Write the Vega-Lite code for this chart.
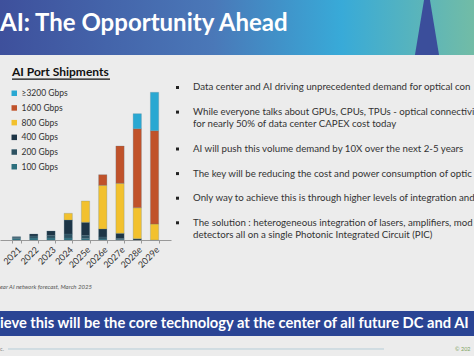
{
  "$schema": "https://vega.github.io/schema/vega-lite/v6.json",
  "background": "#ececec",
  "padding": 0,
  "spacing": 0,
  "config": {"view": {"stroke": null}, "font": "Lato"},
  "vconcat": [
    {
      "width": 474,
      "height": 55,
      "view": {"fill": {"gradient": "linear", "x1": 0, "y1": 0, "x2": 1, "y2": 0, "stops": [{"offset": 0, "color": "#3e509c"}, {"offset": 0.45, "color": "#4a78b8"}, {"offset": 0.72, "color": "#38aad8"}, {"offset": 1, "color": "#72bca6"}]}, "stroke": null},
      "data": {"values": [{"title": "AI: The Opportunity Ahead"}]},
      "layer": [
        {"mark": {"type": "point", "shape": "M0,-1L0.33,1L-0.33,1Z", "filled": true, "size": 5329, "color": "#3b4e9b", "opacity": 1, "clip": true}, "encoding": {"x": {"value": 427}, "y": {"value": 18.5}}},
        {"mark": {"type": "text", "font": "Lato", "fontSize": 24, "fontWeight": "bold", "color": "white", "align": "left", "baseline": "alphabetic"}, "encoding": {"x": {"value": 0}, "y": {"value": 31}, "text": {"field": "title"}}}
      ]
    },
    {
      "spacing": 0,
      "bounds": "flush",
      "hconcat": [
        {
          "width": 171,
          "height": 185,
          "layer": [
            {
              "data": {"values": [
                {"year": "2021", "series": "100 Gbps", "gbps": 100, "value": 1.4},
                {"year": "2021", "series": "200 Gbps", "gbps": 200, "value": 1.3},
                {"year": "2021", "series": "400 Gbps", "gbps": 400, "value": 0.6},
                {"year": "2022", "series": "100 Gbps", "gbps": 100, "value": 2},
                {"year": "2022", "series": "200 Gbps", "gbps": 200, "value": 2},
                {"year": "2022", "series": "400 Gbps", "gbps": 400, "value": 2},
                {"year": "2023", "series": "100 Gbps", "gbps": 100, "value": 2},
                {"year": "2023", "series": "200 Gbps", "gbps": 200, "value": 2.5},
                {"year": "2023", "series": "400 Gbps", "gbps": 400, "value": 4.5},
                {"year": "2024", "series": "100 Gbps", "gbps": 100, "value": 2},
                {"year": "2024", "series": "200 Gbps", "gbps": 200, "value": 4},
                {"year": "2024", "series": "400 Gbps", "gbps": 400, "value": 14},
                {"year": "2024", "series": "800 Gbps", "gbps": 800, "value": 6.7},
                {"year": "2025e", "series": "100 Gbps", "gbps": 100, "value": 1.5},
                {"year": "2025e", "series": "200 Gbps", "gbps": 200, "value": 3},
                {"year": "2025e", "series": "400 Gbps", "gbps": 400, "value": 13.2},
                {"year": "2025e", "series": "800 Gbps", "gbps": 800, "value": 21.3},
                {"year": "2026e", "series": "100 Gbps", "gbps": 100, "value": 1},
                {"year": "2026e", "series": "200 Gbps", "gbps": 200, "value": 2},
                {"year": "2026e", "series": "400 Gbps", "gbps": 400, "value": 8},
                {"year": "2026e", "series": "800 Gbps", "gbps": 800, "value": 43.7},
                {"year": "2026e", "series": "1600 Gbps", "gbps": 1600, "value": 10.6},
                {"year": "2027e", "series": "100 Gbps", "gbps": 100, "value": 0.5},
                {"year": "2027e", "series": "200 Gbps", "gbps": 200, "value": 1},
                {"year": "2027e", "series": "400 Gbps", "gbps": 400, "value": 5.2},
                {"year": "2027e", "series": "800 Gbps", "gbps": 800, "value": 50},
                {"year": "2027e", "series": "1600 Gbps", "gbps": 1600, "value": 37.3},
                {"year": "2028e", "series": "400 Gbps", "gbps": 400, "value": 1.3},
                {"year": "2028e", "series": "800 Gbps", "gbps": 800, "value": 31},
                {"year": "2028e", "series": "1600 Gbps", "gbps": 1600, "value": 79},
                {"year": "2028e", "series": "≥3200 Gbps", "gbps": 3200, "value": 15},
                {"year": "2029e", "series": "800 Gbps", "gbps": 800, "value": 16},
                {"year": "2029e", "series": "1600 Gbps", "gbps": 1600, "value": 93.3},
                {"year": "2029e", "series": "≥3200 Gbps", "gbps": 3200, "value": 38.4}
              ]},
              "mark": {"type": "bar", "stroke": "#5b7f8c", "strokeWidth": 0.25},
              "encoding": {
                "x": {"field": "year", "type": "ordinal", "sort": null, "scale": {"paddingInner": 0.52, "paddingOuter": 0.714}, "axis": {"title": null, "labelAngle": -45, "labelFont": "Lato", "labelFontSize": 9, "labelColor": "#333", "domainColor": "#999", "tickColor": "#999", "tickSize": 3, "tickBand": "extent", "labelPadding": 2, "grid": false}},
                "y": {"field": "value", "type": "quantitative", "stack": "zero", "scale": {"domain": [0, 185], "nice": false}, "axis": null},
                "color": {"field": "series", "type": "nominal", "scale": {"domain": ["≥3200 Gbps", "1600 Gbps", "800 Gbps", "400 Gbps", "200 Gbps", "100 Gbps"], "range": ["#2aa8d2", "#c0522a", "#f2c12e", "#1d3546", "#2d5262", "#2c6f7e"]}, "legend": {"orient": "none", "legendX": 10, "legendY": 89, "title": null, "symbolType": "square", "symbolSize": 30, "symbolStrokeWidth": 0, "labelFont": "Lato", "labelFontSize": 8.5, "labelColor": "#333", "rowPadding": 5.7, "labelOffset": 3}},
                "order": {"field": "gbps", "sort": "ascending"}
              }
            },
            {
              "data": {"values": [{"t": "AI Port Shipments"}]},
              "mark": {"type": "text", "font": "Lato", "fontSize": 12, "fontWeight": "bold", "color": "#111", "align": "left", "baseline": "alphabetic"},
              "encoding": {"x": {"value": 12}, "y": {"value": 21}, "text": {"field": "t"}}
            },
            {
              "data": {"values": [{"t": "underline"}]},
              "mark": {"type": "rule", "color": "#111", "strokeWidth": 1.3},
              "encoding": {"x": {"value": 12}, "x2": {"value": 110}, "y": {"value": 24.2}}
            },
            {
              "data": {"values": [{"t": "ear AI network forecast, March 2025"}]},
              "mark": {"type": "text", "font": "Lato", "fontSize": 6, "fontStyle": "italic", "color": "#555", "align": "left", "baseline": "middle"},
              "encoding": {"x": {"value": 0}, "y": {"value": 232}, "text": {"field": "t"}}
            }
          ]
        },
        {
          "width": 303,
          "height": 256,
          "data": {"values": [
            {"line": 0, "bullet": true, "text": "Data center and AI driving unprecedented demand for optical con"},
            {"line": 2, "bullet": true, "text": "While everyone talks about GPUs, CPUs, TPUs  - optical connectivi"},
            {"line": 3, "bullet": false, "text": "for nearly 50% of data center CAPEX cost today"},
            {"line": 5, "bullet": true, "text": "AI will push this volume demand by 10X over the next 2-5 years"},
            {"line": 7, "bullet": true, "text": "The key will be reducing the cost and power consumption of optic"},
            {"line": 9, "bullet": true, "text": "Only way to achieve this is through higher levels of integration and"},
            {"line": 11, "bullet": true, "text": "The solution : heterogeneous integration of lasers, amplifiers, mod"},
            {"line": 12, "bullet": false, "text": "detectors all on a single Photonic Integrated Circuit (PIC)"}
          ]},
          "encoding": {"y": {"field": "line", "type": "quantitative", "scale": {"domain": [-2.642, 18.171], "reverse": true, "nice": false, "zero": false}, "axis": null}},
          "layer": [
            {"transform": [{"filter": "datum.bullet"}], "mark": {"type": "point", "shape": "square", "filled": true, "size": 9, "color": "#222", "opacity": 1}, "encoding": {"x": {"value": 6.5}}},
            {"mark": {"type": "text", "align": "left", "baseline": "middle", "font": "Lato", "fontSize": 9.7, "color": "#333", "clip": true}, "encoding": {"x": {"value": 22}, "text": {"field": "text"}}}
          ]
        }
      ]
    },
    {
      "width": 474,
      "height": 25,
      "view": {"fill": "#2a4494", "stroke": null},
      "data": {"values": [{"t": "ieve this will be the core technology at the center of all future DC and AI"}]},
      "mark": {"type": "text", "font": "Lato", "fontSize": 14.7, "fontWeight": "bold", "color": "white", "align": "left", "baseline": "middle", "clip": true},
      "encoding": {"x": {"value": 0}, "y": {"value": 12.5}, "text": {"field": "t"}}
    },
    {
      "width": 474,
      "height": 20,
      "data": {"values": [{"copy": "© 202", "left": "c."}]},
      "layer": [
        {"mark": {"type": "rule", "color": "#b5cdd8", "strokeWidth": 1}, "encoding": {"x": {"value": 8}, "x2": {"value": 384}, "y": {"value": 13}}},
        {"mark": {"type": "text", "font": "Lato", "fontSize": 5.5, "color": "#7ea35e", "align": "left", "baseline": "middle"}, "encoding": {"x": {"value": 455}, "y": {"value": 13}, "text": {"field": "copy"}}},
        {"mark": {"type": "text", "font": "Lato", "fontSize": 5.5, "color": "#888", "align": "left", "baseline": "middle"}, "encoding": {"x": {"value": 0}, "y": {"value": 13}, "text": {"field": "left"}}}
      ]
    }
  ]
}
